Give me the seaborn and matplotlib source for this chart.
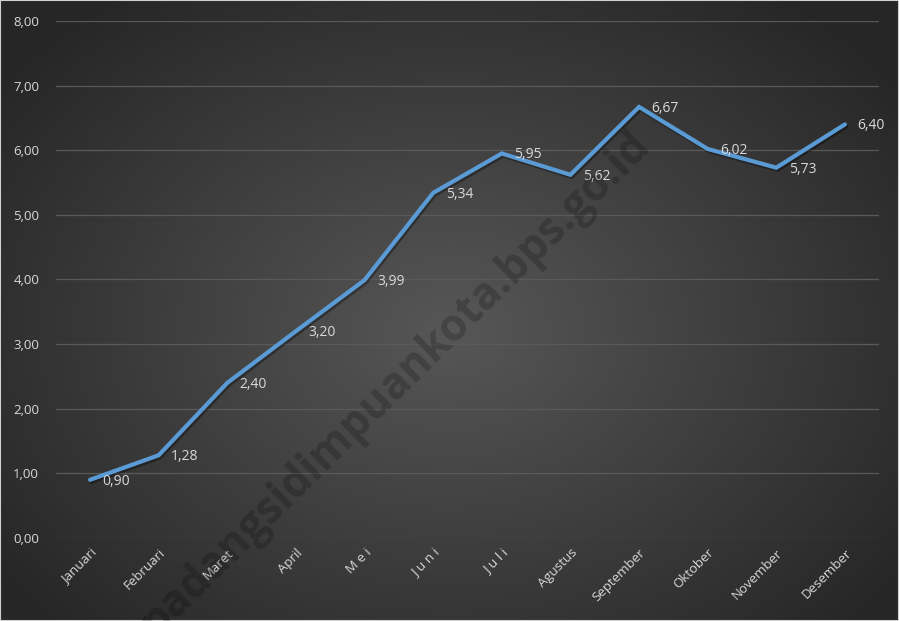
import numpy as np
import pandas as pd
import matplotlib
matplotlib.use("Agg")
import matplotlib.pyplot as plt
import matplotlib.patheffects as pe
import seaborn as sns

bulan = ["Januari", "Februari", "Maret", "April", "M e i", "J u n i",
         "J u l i", "Agustus", "September", "Oktober", "November", "Desember"]
nilai = [0.90, 1.28, 2.40, 3.20, 3.99, 5.34, 5.95, 5.62, 6.67, 6.02, 5.73, 6.40]
y_ticks = [0, 1, 2, 3, 4, 5, 6, 7, 8]

df = pd.DataFrame({"bulan": bulan, "nilai": nilai, "x": range(len(bulan))})

sns.set_style("dark")
plt.rcParams['font.family'] = ['Open Sans', 'DejaVu Sans']

fig = plt.figure(figsize=(8.99, 6.21), dpi=100)

# latar belakang gradien radial
bg = fig.add_axes([0, 0, 1, 1])
yy, xx = np.mgrid[0:621, 0:899]
r = np.sqrt(((xx - 450) / 560.0) ** 2 + ((yy - 330) / 420.0) ** 2)
r = np.clip(r, 0, 1)
shade = 0.34 - 0.19 * r
bg.imshow(np.dstack([shade, shade, shade]), aspect="auto", extent=[0, 1, 0, 1])
bg.set_axis_off()
bg.add_patch(plt.Rectangle((0, 0), 1, 1, transform=bg.transAxes, fill=False,
                           edgecolor="#d0d0d0", linewidth=1.5))

# watermark
fig.text(0.440, 0.383, "padangsidimpuankota.bps.go.id", rotation=44.7,
         ha="center", va="center", fontsize=31.5, fontweight="bold",
         color="black", alpha=0.2)

ax = fig.add_axes([0.062, 0.1337, 0.916, 0.8325])
ax.patch.set_alpha(0)
for s in ax.spines.values():
    s.set_visible(False)

sns.lineplot(data=df, x="x", y="nilai", ax=ax, color="#5B9BD5", linewidth=3.0,
             solid_joinstyle="miter", solid_capstyle="round")
ax.lines[0].set_path_effects([
    pe.SimpleLineShadow(offset=(1, -1.5), shadow_color="black", alpha=0.35),
    pe.Normal()])

ax.set_xlim(-0.5, len(bulan) - 0.5)
ax.set_ylim(0, 8)
ax.set_yticks(y_ticks)
ax.set_yticklabels([f"{v:.2f}".replace(".", ",") for v in y_ticks],
                   color="#d9d9d9", fontsize=9.5)
ax.set_xticks(df["x"])
ax.set_xticklabels(bulan, rotation=45, ha="right", va="top",
                   rotation_mode="anchor", color="#d9d9d9", fontsize=9.5)
ax.tick_params(axis="both", length=0, pad=6)
ax.tick_params(axis="y", pad=12)
ax.grid(axis="y", color="#5a5a5a", linewidth=0.9)
ax.grid(axis="x", visible=False)
ax.set_xlabel("")
ax.set_ylabel("")

for i, v in enumerate(nilai):
    ax.annotate(f"{v:.2f}".replace(".", ","), (i, v), xytext=(9, -1),
                textcoords="offset points", ha="left", va="center",
                color="#d9d9d9", fontsize=10)

fig.savefig("out.png", dpi=100)
